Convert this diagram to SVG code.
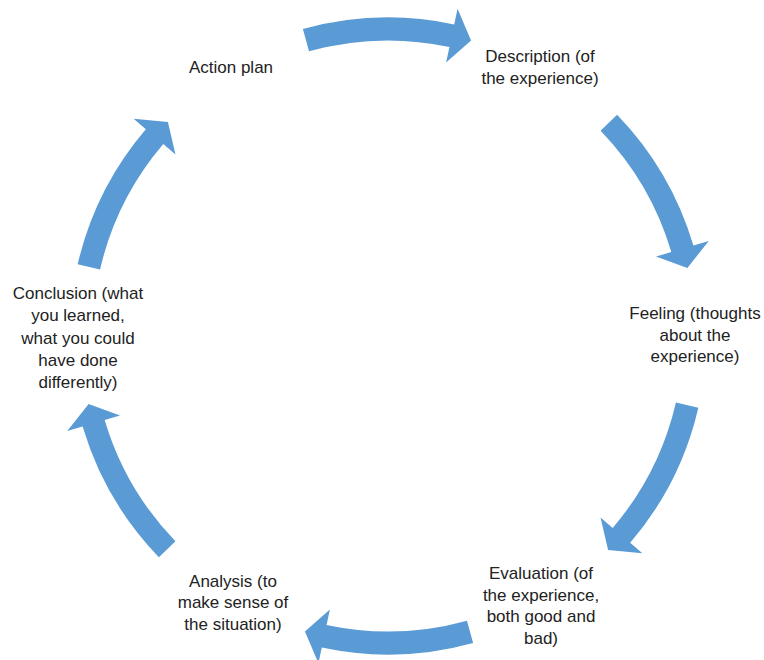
<svg xmlns="http://www.w3.org/2000/svg" xmlns:xlink="http://www.w3.org/1999/xlink" width="764" height="660" viewBox="0 0 764 660">
  <style>
    .lbl { font-family: "Liberation Sans", Arial, sans-serif; font-size: 17px; fill: #222222; text-anchor: middle; }
    .arr { fill: #5B9BD5; }
  </style>
  <defs>
    <path id="arc-arrow" class="arr" d="M -85.12,-306.92 A 318.5 318.5 0 0 1 66.22,-311.54 L 69.55,-327.19 L 83.07,-295.55 L 58.11,-273.39 L 61.44,-289.04 A 295.5 295.5 0 0 0 -78.97,-284.75 Z"/>
  </defs>
  <rect width="764" height="660" fill="#FFFFFF"/>

  <g id="connectors">
    <use xlink:href="#arc-arrow" href="#arc-arrow" transform="translate(388,336) rotate(0)"/>
    <use xlink:href="#arc-arrow" href="#arc-arrow" transform="translate(388,336) rotate(61.5)"/>
    <use xlink:href="#arc-arrow" href="#arc-arrow" transform="translate(388,336) rotate(118.5)"/>
    <use xlink:href="#arc-arrow" href="#arc-arrow" transform="translate(388,336) rotate(180)"/>
    <use xlink:href="#arc-arrow" href="#arc-arrow" transform="translate(388,336) rotate(241.5)"/>
    <use xlink:href="#arc-arrow" href="#arc-arrow" transform="translate(388,336) rotate(298.5)"/>
  </g>

  <g id="node-description">
    <text class="lbl" x="540" y="62">Description (of</text>
    <text class="lbl" x="540" y="83.5">the experience)</text>
  </g>

  <g id="node-feeling">
    <text class="lbl" x="695" y="319">Feeling (thoughts</text>
    <text class="lbl" x="695" y="340.5">about the</text>
    <text class="lbl" x="695" y="362">experience)</text>
  </g>

  <g id="node-evaluation">
    <text class="lbl" x="541" y="579">Evaluation (of</text>
    <text class="lbl" x="541" y="600.5">the experience,</text>
    <text class="lbl" x="541" y="622">both good and</text>
    <text class="lbl" x="541" y="643.5">bad)</text>
  </g>

  <g id="node-analysis">
    <text class="lbl" x="233" y="586.5">Analysis (to</text>
    <text class="lbl" x="233" y="608">make sense of</text>
    <text class="lbl" x="233" y="629.5">the situation)</text>
  </g>

  <g id="node-conclusion">
    <text class="lbl" x="78" y="298.5">Conclusion (what</text>
    <text class="lbl" x="78" y="321">you learned,</text>
    <text class="lbl" x="78" y="343.5">what you could</text>
    <text class="lbl" x="78" y="366">have done</text>
    <text class="lbl" x="78" y="388">differently)</text>
  </g>

  <g id="node-action-plan">
    <text class="lbl" x="231" y="73">Action plan</text>
  </g>
</svg>
